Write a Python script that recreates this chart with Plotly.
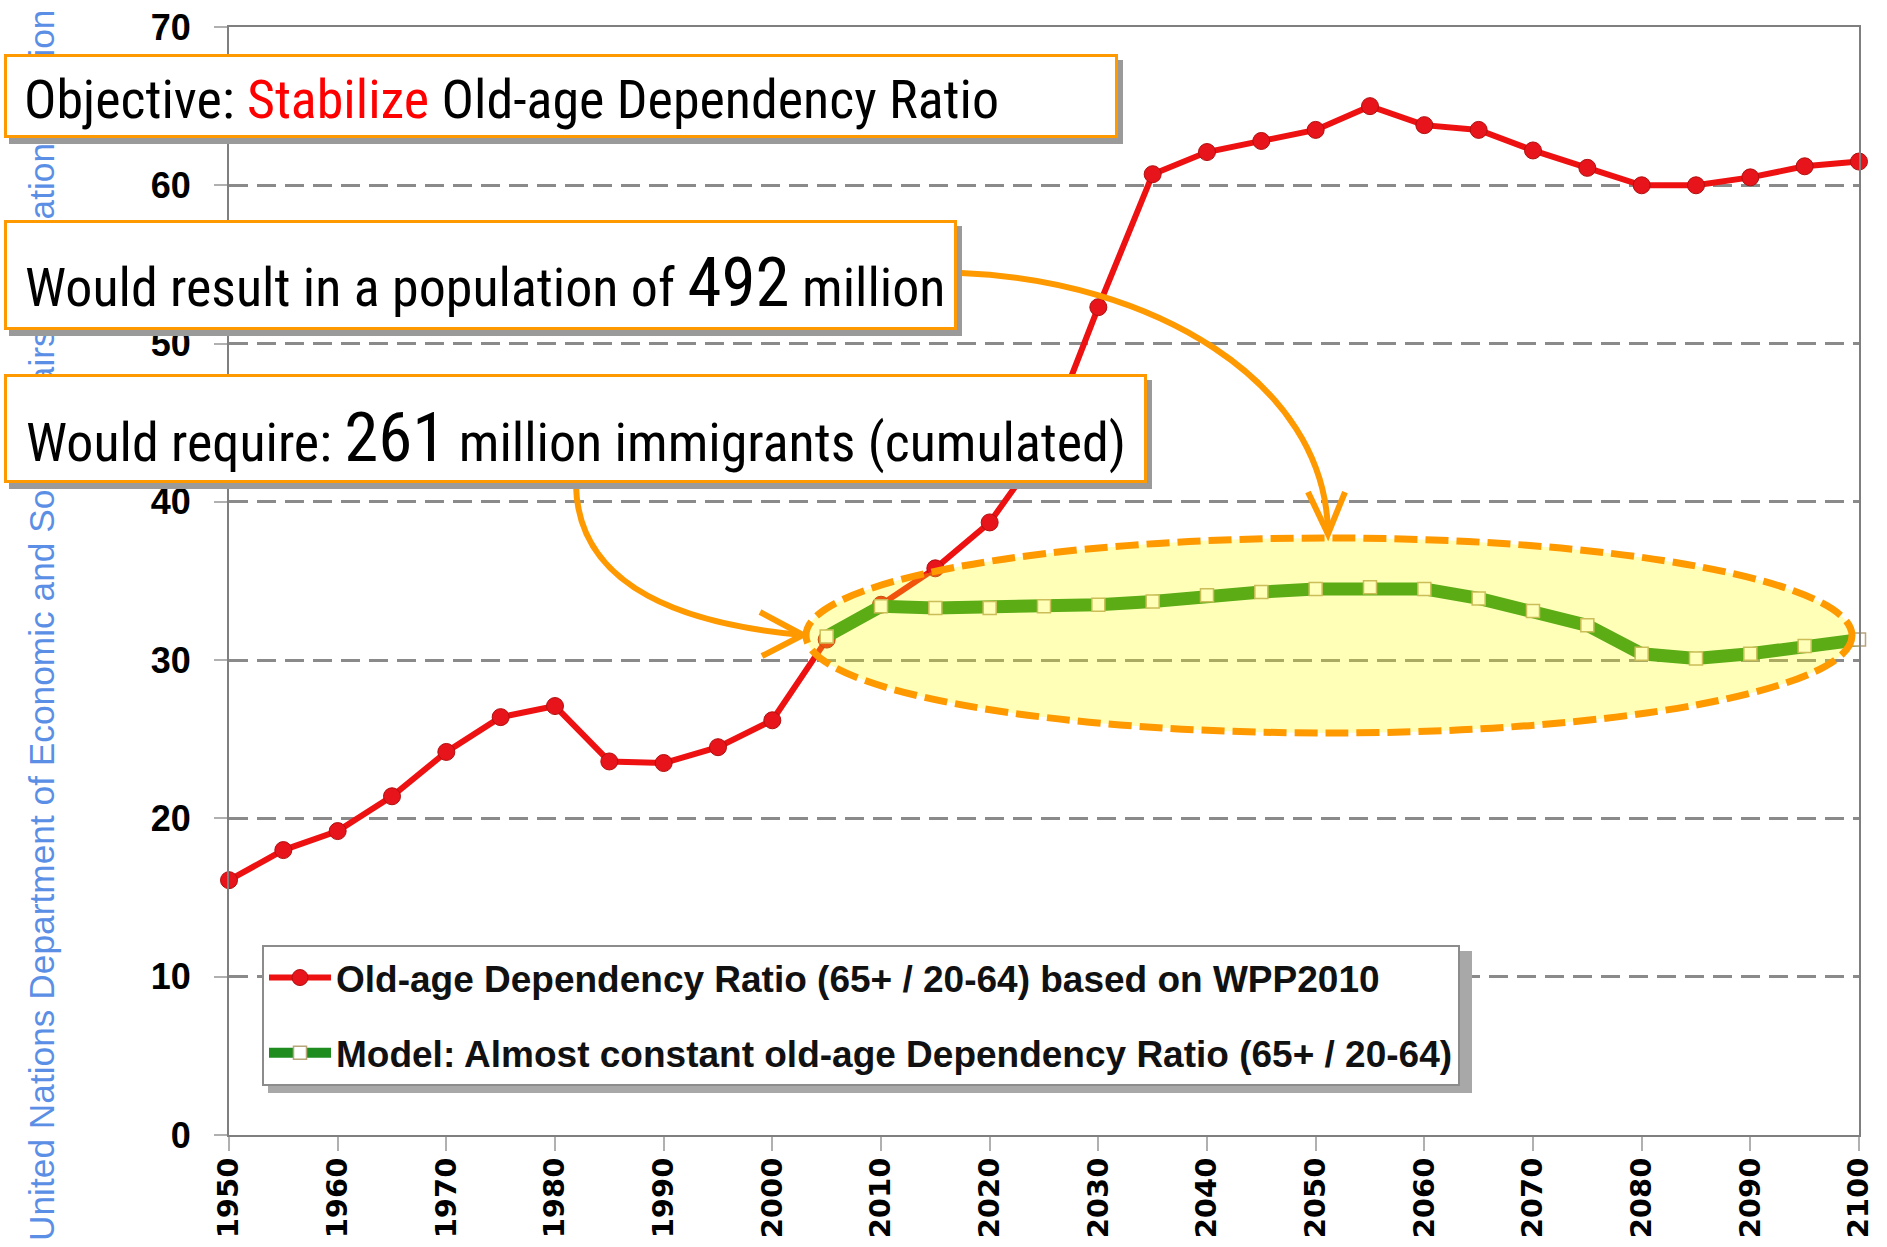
import plotly.graph_objects as go

# ---------------- data ----------------
years_red = list(range(1950, 2101, 5))
ratio_wpp2010 = [16.1, 18.0, 19.2, 21.4, 24.2, 26.4, 27.1, 23.6, 23.5, 24.5, 26.2,
                 31.3, 33.5, 35.8, 38.7, 43.5, 52.3, 60.7, 62.1, 62.8, 63.5, 65.0,
                 63.8, 63.5, 62.2, 61.1, 60.0, 60.0, 60.5, 61.2, 61.5]
years_model = list(range(2005, 2101, 5))
ratio_model = [31.5, 33.4, 33.3, 33.3, 33.4, 33.5, 33.7, 34.1, 34.3, 34.5, 34.6,
               34.5, 33.9, 33.1, 32.2, 30.4, 30.1, 30.4, 30.9, 31.3]
x_ticks = list(range(1950, 2101, 10))
y_ticks = list(range(0, 71, 10))

name_red = "Old-age Dependency Ratio (65+ / 20-64) based on WPP2010"
name_green = "Model: Almost constant old-age Dependency Ratio (65+ / 20-64)"
side_text = "United Nations Department of Economic and Social Affairs, Population Division"

# ---------------- geometry ----------------
W, H = 1887, 1247
L, R, T, B = 229, 28, 27, 112
PW, PH = W - L - R, H - T - B
PB = H - B

def px(x):
    return (x - L) / PW

def py(y):
    return (PB - y) / PH

ORANGE = "#FF9900"
COND = "Roboto Condensed, Liberation Sans, sans-serif"

fig = go.Figure()
fig.add_trace(go.Scatter(
    x=years_red, y=ratio_wpp2010, name=name_red, mode="lines+markers",
    line=dict(color="#EE1111", width=6),
    marker=dict(size=17, color="#E8141B", line=dict(color="#B01010", width=1)),
    cliponaxis=False, legendgroup="a"))
fig.add_trace(go.Scatter(
    x=years_model, y=ratio_model, name=name_green, mode="lines+markers",
    line=dict(color="#1E8C1E", width=13),
    marker=dict(symbol="square", size=13, color="white", line=dict(color="#B8A57A", width=1.5)),
    cliponaxis=False, legendgroup="b"))

shapes = []
shapes.append(dict(type="circle", xref="paper", yref="paper",
                   x0=px(806), x1=px(1852), y0=py(733), y1=py(538),
                   fillcolor="rgba(255,255,0,0.28)",
                   line=dict(color=ORANGE, width=7, dash="23px,8px"), layer="above"))

def P(x, y):
    return f"{px(x):.5f},{py(y):.5f}"

shapes.append(dict(type="path", xref="paper", yref="paper",
                   path=f"M{P(961,273)} C{P(1150,280)} {P(1325,380)} {P(1328,532)}",
                   line=dict(color=ORANGE, width=6), layer="above"))
shapes.append(dict(type="path", xref="paper", yref="paper",
                   path=f"M{P(1308,492)} L{P(1328,534)} L{P(1345,492)}",
                   line=dict(color=ORANGE, width=6), layer="above"))
shapes.append(dict(type="path", xref="paper", yref="paper",
                   path=f"M{P(576,485)} C{P(578,590)} {P(690,625)} {P(803,635)}",
                   line=dict(color=ORANGE, width=6), layer="above"))
shapes.append(dict(type="path", xref="paper", yref="paper",
                   path=f"M{P(760,612)} L{P(803,635)} L{P(762,656)}",
                   line=dict(color=ORANGE, width=6), layer="above"))
shapes.append(dict(type="rect", xref="paper", yref="paper",
                   x0=px(268), x1=px(1472), y0=py(1093), y1=py(951),
                   fillcolor="#A8A8A8", line=dict(width=0), layer="above"))

annotations = []
annotations.append(dict(text=side_text, xref="paper", yref="paper", x=px(41), y=py(626),
                        xanchor="center", yanchor="middle", textangle=-90, showarrow=False,
                        font=dict(family="Liberation Sans, Arial, sans-serif", size=35.3, color="#5B8FE6")))

boxes = [
    (4, 54, 1118, 138),
    (4, 220, 957, 330),
    (4, 374, 1147, 483),
]
for (x0, y0, x1, y1) in boxes:
    annotations.append(dict(text=" ", xref="paper", yref="paper", x=px(x0 + 5), y=py(y0 + 6),
                            xanchor="left", yanchor="top", width=x1 - x0, height=y1 - y0,
                            bgcolor="#9A9A9A", borderwidth=0, borderpad=0, showarrow=False))
    annotations.append(dict(text=" ", xref="paper", yref="paper", x=px(x0), y=py(y0),
                            xanchor="left", yanchor="top", width=x1 - x0 - 6, height=y1 - y0 - 6,
                            bgcolor="white", bordercolor=ORANGE, borderwidth=3, borderpad=0,
                            showarrow=False))

box_texts = [
    ("Objective: <span style='color:#FF0000'>Stabilize</span> Old-age Dependency Ratio", 24, 99),
    ("Would result in a population of <span style='font-size:69px'>492</span> million", 25, 283),
    ("Would require: <span style='font-size:69px'>261</span> million immigrants (cumulated)", 26, 437),
]
for (txt, x, y) in box_texts:
    annotations.append(dict(text=txt, xref="paper", yref="paper", x=px(x), y=py(y),
                            xanchor="left", yanchor="middle", showarrow=False,
                            borderpad=0, borderwidth=0,
                            font=dict(family=COND, size=54, color="black")))

fig.update_layout(
    width=W, height=H,
    margin=dict(l=L, r=R, t=T, b=B, autoexpand=False),
    paper_bgcolor="white", plot_bgcolor="white",
    shapes=shapes, annotations=annotations,
    showlegend=True,
    legend=dict(x=px(262), y=py(945), xanchor="left", yanchor="top",
                bgcolor="white", bordercolor="#8C8C8C", borderwidth=2,
                font=dict(family="Liberation Sans, sans-serif", size=37, color="#111111", weight="bold"),
                itemwidth=62, tracegroupgap=24, traceorder="grouped"),
    xaxis=dict(range=[1950, 2100], tickvals=x_ticks, tickangle=-90,
               showgrid=False, zeroline=False,
               showline=True, linecolor="#7F7F7F", linewidth=2, mirror=True,
               ticks="outside", ticklen=14, tickcolor="#B0B0B0", tickwidth=2,
               ticklabelstandoff=-5,
               tickfont=dict(family="DejaVu Sans, sans-serif", size=29, color="black", weight="bold")),
    yaxis=dict(range=[0, 70], tickvals=y_ticks,
               showgrid=True, gridcolor="#8A8A8A", gridwidth=3, griddash="19px,9px",
               zeroline=False,
               showline=True, linecolor="#7F7F7F", linewidth=2, mirror=True,
               ticks="outside", ticklen=13, tickcolor="#B0B0B0", tickwidth=2,
               ticklabelstandoff=16,
               tickfont=dict(family="Liberation Sans, Arial, sans-serif", size=36, color="black", weight="bold")),
)

fig.write_html("out.html", config={"displayModeBar": False},
               post_script="document.body.style.margin='0px';document.body.style.overflow='hidden';")
